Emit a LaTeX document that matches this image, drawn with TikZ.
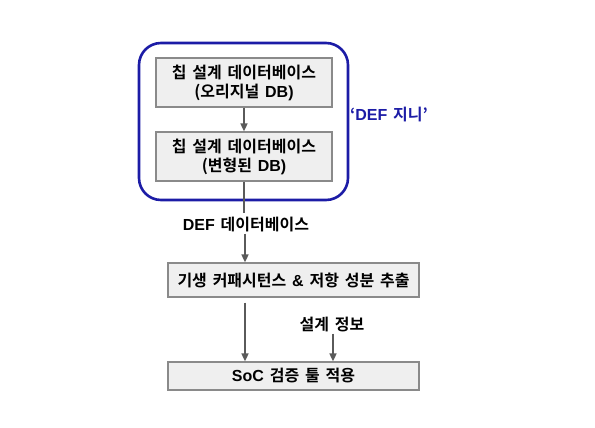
\documentclass[tikz,border=0pt]{standalone}
\usepackage{fontspec}
\setmainfont{Noto Sans CJK KR}[BoldFont={Noto Sans CJK KR Bold},WordSpace=1.6]
\newfontfamily\latfont{Liberation Sans}[BoldFont={Liberation Sans Bold}]
\newcommand{\en}[1]{{\latfont\bfseries #1}}
\usetikzlibrary{arrows.meta,positioning}
\definecolor{cBlue}{HTML}{1C1CA6}
\definecolor{cGray}{HTML}{5A5A5A}
\definecolor{cEdge}{HTML}{8A8A8A}
\definecolor{cFill}{HTML}{EFEFEF}
\tikzset{
  stage/.style={draw=cEdge,line width=1.2pt,fill=cFill,inner sep=0pt,
                align=center,font=\bfseries\fontsize{16}{19}\selectfont},
  tag/.style={font=\bfseries\fontsize{16}{19}\selectfont,inner sep=1pt},
  flow/.style={-{Triangle[length=8pt,width=7pt]},line width=1.6pt,cGray},
  genie/.style={draw=cBlue,line width=2.6pt,rounded corners=22pt,
                minimum width=209pt,minimum height=157pt},
}
\begin{document}
\begin{tikzpicture}[x=1pt,y=-1pt]
  \useasboundingbox (0,0) rectangle (595,428);
  \node[genie] (frame) at (243.5,121.5){};
  \node[stage,minimum width=176pt,minimum height=49pt] (orig) at (244,82.5)
    {칩 설계 데이터베이스\\(오리지널 \en{DB)}};
  \node[stage,minimum width=176pt,minimum height=49pt] (mod) at (244,156.5)
    {칩 설계 데이터베이스\\(변형된 \en{DB)}};
  \node[tag,text=cBlue] (name) at (389,115){‘\en{DEF} 지니’};
  \node[tag] (def) at (246,225){\en{DEF} 데이터베이스};
  \node[stage,minimum width=251pt,minimum height=34pt] (extract) at (293.5,280)
    {기생 커패시턴스 \en{\&} 저항 성분 추출};
  \node[stage,minimum width=251pt,minimum height=28pt] (soc) at (293.5,376)
    {\en{SoC} 검증 툴 적용};
  \node[tag] (info) at (332,325){설계 정보};
  \coordinate (gap) at (244,213);
  % flow between stages
  \draw[flow] (orig) -- (mod);
  \draw[line width=1.6pt,cGray] (mod) -- (gap);
  \draw[flow] (def.south -| 245,0) -- (extract.north -| 245,0);
  \draw[flow,shorten <=5pt] (extract.south -| 245,0) -- (soc.north -| 245,0);
  \draw[flow] (info.south -| 333,0) -- (soc.north -| 333,0);
\end{tikzpicture}
\end{document}
